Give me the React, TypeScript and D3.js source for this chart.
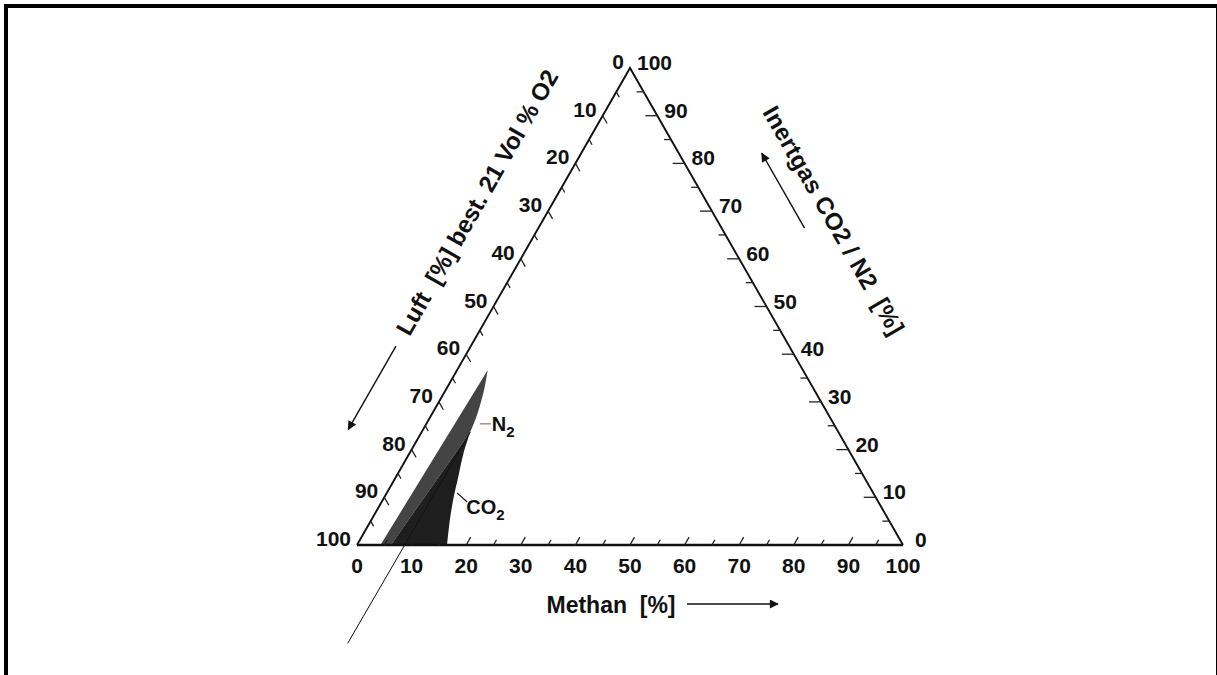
import * as d3 from 'd3'

type TP = [number, number] // [methan %, inertgas %]; luft = 100 - both

const majorTicks = [0, 10, 20, 30, 40, 50, 60, 70, 80, 90, 100]
const minorTicks = [5, 15, 25, 35, 45, 55, 65, 75, 85, 95]

// explosive range
const n2Lower: TP = [4.3, 0]
const n2Tip: TP = [5.6, 36.7]
const n2Upper: TP[] = [[6.8, 33.2], [7.7, 30], [8.5, 26.5]]
const co2Tip: TP = [8.9, 23.7]
const co2Lower: TP = [6.2, 0]
const uelEdge: TP[] = [[9.9, 19.2], [11.4, 14.3], [12.9, 9.4], [14.4, 5.2], [16.5, 0]]
const airLine: TP[] = [[8.6, -20.6], [8.9, 23.7]]
const n2Anchor: TP = [9.8, 25.4]
const co2Anchor: TP = [12.9, 10.9]

const W = 1217, H = 675
const FONT = '"Liberation Sans", Arial, Helvetica, sans-serif'

type V = [number, number]
const unit = (a: V, b: V): V => {
  const dx = b[0] - a[0], dy = b[1] - a[1], l = Math.hypot(dx, dy)
  return [dx / l, dy / l]
}
const add = (p: V, u: V, k: number): V => [p[0] + u[0] * k, p[1] + u[1] * k]
const deg = (u: V) => (Math.atan2(u[1], u[0]) * 180) / Math.PI

export default function App() {
  const xS = d3.scaleLinear().domain([0, 100]).range([357, 903])
  const yS = d3.scaleLinear().domain([0, 100]).range([545, 68])
  const P = ([m, i]: TP): V => [xS(m) + (xS(i) - xS(0)) / 2, yS(i)]

  const BL = P([0, 0]), BR = P([100, 0]), AP = P([0, 100])
  const uL = unit(BL, AP)          // up the left edge
  const uR = unit(BR, AP)          // up the right edge
  const dR = unit(AP, BR)          // down the right edge
  const nL: V = [uL[1], -uL[0]]    // outward of left edge
  const nR: V = [-uR[1], uR[0]]    // outward of right edge

  const curve = d3.line<V>().curve(d3.curveCatmullRom.alpha(0.5))
  const asL = (s: string | null) => (s || '').replace(/^M/, 'L')

  const n2Path = `M${P(n2Lower)}` + asL(curve([n2Tip, ...n2Upper, co2Tip].map(P))) + `L${P(co2Lower)}Z`
  const co2Path = `M${P(co2Lower)}` + asL(curve([co2Tip, ...uelEdge].map(P))) + 'Z'

  const ticks = [...majorTicks.filter(v => v > 0 && v < 100).map(v => ({ v, major: true })), ...minorTicks.map(v => ({ v, major: false }))]

  const leftTitleC = add(add(BL, uL, 357), nL, 66)
  const rightTitleC = add(add(BR, uR, 316), nR, 101)
  const la0 = add(add(BL, uL, 192), nL, 65), la1 = add(add(BL, uL, 96), nL, 65)
  const ra0 = add(add(BR, uR, 324), nR, 72), ra1 = add(add(BR, uR, 410), nR, 72)

  const n2A = P(n2Anchor), co2A = P(co2Anchor)

  const txt = { fontFamily: FONT, fontWeight: 700, fill: '#111' } as const

  return (
    <svg width={W} height={H} style={{ position: 'absolute', left: 0, top: 0, background: '#fff' }}>
      <defs>
        <marker id="ah" viewBox="0 0 10 10" refX="9" refY="5" markerWidth="12" markerHeight="9" markerUnits="userSpaceOnUse" orient="auto">
          <path d="M0,0L10,5L0,10Z" fill="#111" />
        </marker>
      </defs>
      <rect x={6} y={6} width={1212} height={720} fill="none" stroke="#000" strokeWidth={4} />

      {/* regions */}
      <path d={n2Path} fill="#444" />
      <path d={co2Path} fill="#1e1e1e" />
      <path d={d3.line<V>()(airLine.map(P)) || ''} stroke="#111" strokeWidth={1} fill="none" />

      {/* triangle */}
      <path d={`M${BL}L${AP}L${BR}`} fill="none" stroke="#111" strokeWidth={1.9} strokeLinejoin="miter" />
      <line x1={BL[0]} y1={BL[1]} x2={BR[0]} y2={BR[1]} stroke="#111" strokeWidth={2.7} />

      {/* ticks */}
      {ticks.map(({ v, major }) => {
        const len = major ? 9 : 6
        const b = P([v, 0]), be = add(b, uL, len)
        const l = P([0, 100 - v]), le = add(l, dR, len)
        const r = P([100 - v, v]), re: V = [r[0] - (major ? 12 : 7), r[1]]
        return (
          <g key={`t${v}`} stroke="#222" strokeWidth={1.3}>
            <line x1={b[0]} y1={b[1]} x2={be[0]} y2={be[1]} />
            <line x1={l[0]} y1={l[1]} x2={le[0]} y2={le[1]} />
            <line x1={r[0]} y1={r[1]} x2={re[0]} y2={re[1]} />
          </g>
        )
      })}

      {/* tick labels */}
      <g {...txt} fontSize={21}>
        {majorTicks.map(v => {
          const b = P([v, 0]), l = P([0, 100 - v]), r = P([100 - v, v])
          return (
            <g key={`l${v}`}>
              <text x={b[0]} y={b[1] + 28} textAnchor="middle">{v}</text>
              <text x={l[0] - 6} y={l[1] + 1} textAnchor="end">{v}</text>
              <text x={r[0] + (v === 0 ? 12 : 7)} y={r[1] + 2} textAnchor="start">{v}</text>
            </g>
          )
        })}
      </g>

      {/* axis titles */}
      <text {...txt} fontSize={24} x={leftTitleC[0]} y={leftTitleC[1]} dy="0.35em" textAnchor="middle"
        transform={`rotate(${deg(uL)},${leftTitleC[0]},${leftTitleC[1]})`} style={{ whiteSpace: 'pre' }}>
        {'Luft  [%] best. 21 Vol % O2'}
      </text>
      <line x1={la0[0]} y1={la0[1]} x2={la1[0]} y2={la1[1]} stroke="#111" strokeWidth={1.4} markerEnd="url(#ah)" />

      <text {...txt} fontSize={24} letterSpacing={0.4} x={rightTitleC[0]} y={rightTitleC[1]} dy="0.35em" textAnchor="middle"
        transform={`rotate(${deg(dR)},${rightTitleC[0]},${rightTitleC[1]})`} style={{ whiteSpace: 'pre' }}>
        {'Inertgas CO2 / N2  [%]'}
      </text>
      <line x1={ra0[0]} y1={ra0[1]} x2={ra1[0]} y2={ra1[1]} stroke="#111" strokeWidth={1.4} markerEnd="url(#ah)" />

      <text {...txt} fontSize={23} x={611} y={613} textAnchor="middle" style={{ whiteSpace: 'pre' }}>
        {'Methan  [%]'}
      </text>
      <line x1={687} y1={604} x2={778} y2={604} stroke="#111" strokeWidth={1.4} markerEnd="url(#ah)" />

      {/* region labels */}
      <line x1={n2A[0]} y1={n2A[1]} x2={n2A[0] + 11} y2={n2A[1]} stroke="#777" strokeWidth={1.2} />
      <text {...txt} fontSize={20} x={n2A[0] + 12} y={n2A[1] + 7}>
        N<tspan fontSize={15} dy={6}>2</tspan>
      </text>
      <line x1={co2A[0]} y1={co2A[1]} x2={co2A[0] + 10} y2={co2A[1] + 9} stroke="#222" strokeWidth={1.2} />
      <text {...txt} fontSize={20} x={co2A[0] + 9} y={co2A[1] + 21}>
        CO<tspan fontSize={15} dy={6}>2</tspan>
      </text>
    </svg>
  )
}
